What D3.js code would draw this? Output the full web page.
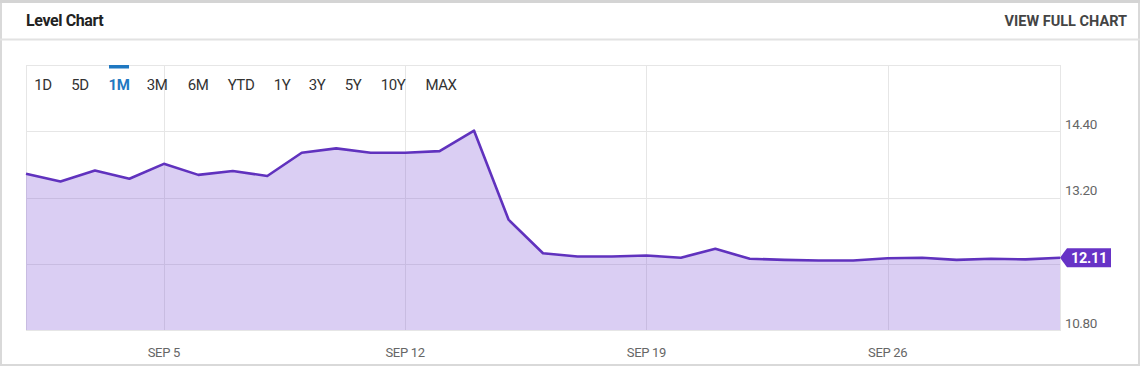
<!DOCTYPE html>
<html>
<head>
<meta charset="utf-8">
<script src="https://cdn.jsdelivr.net/npm/d3@7"></script>
<style>
  html, body { margin: 0; padding: 0; background: #fff; }
  svg { display: block; font-family: Roboto, "Noto Sans", sans-serif; }
</style>
</head>
<body>
<svg id="chart" width="1140" height="367"></svg>
<script>
// ---- data ----
const dates = [
  "2022-09-01","2022-09-02","2022-09-03","2022-09-04","2022-09-05","2022-09-06",
  "2022-09-07","2022-09-08","2022-09-09","2022-09-10","2022-09-11","2022-09-12",
  "2022-09-13","2022-09-14","2022-09-15","2022-09-16","2022-09-17","2022-09-18",
  "2022-09-19","2022-09-20","2022-09-21","2022-09-22","2022-09-23","2022-09-24",
  "2022-09-25","2022-09-26","2022-09-27","2022-09-28","2022-09-29","2022-09-30",
  "2022-10-01"
];
const values = [
  13.63, 13.49, 13.69, 13.54, 13.81, 13.61,
  13.68, 13.59, 14.01, 14.09, 14.01, 14.01,
  14.04, 14.41, 12.80, 12.19, 12.13, 12.13,
  12.15, 12.11, 12.27, 12.09, 12.07, 12.06,
  12.06, 12.10, 12.11, 12.07, 12.09, 12.08,
  12.11
];
const yTicks = [10.8, 12.0, 13.2, 14.4];
const xTickDates = ["2022-09-05", "2022-09-12", "2022-09-19", "2022-09-26"];
const rangeButtons = ["1D", "5D", "1M", "3M", "6M", "YTD", "1Y", "3Y", "5Y", "10Y", "MAX"];
const activeButton = "1M";
const title = "Level Chart";
const linkText = "VIEW FULL CHART";

// ---- setup ----
const W = 1140, H = 367;
const svg = d3.select("#chart");
const parse = d3.utcParse("%Y-%m-%d");
const data = dates.map((d, i) => ({ date: parse(d), value: values[i] }));

const plot = { left: 26, right: 1060, top: 65, bottom: 330 };
const x = d3.scaleUtc()
  .domain([parse("2022-09-01"), parse("2022-10-01")])
  .range([plot.left, plot.right]);
const y = d3.scaleLinear()
  .domain([10.8, 15.6])
  .range([plot.bottom, plot.top]);

// card background and borders
svg.append("rect").attr("x", 1).attr("y", 1).attr("width", W - 2).attr("height", H - 3)
  .attr("fill", "#fff").attr("stroke", "#d9d9d9").attr("stroke-width", 2);
svg.append("line").attr("x1", 0).attr("x2", W).attr("y1", 1.5).attr("y2", 1.5)
  .attr("stroke", "#d4d4d4").attr("stroke-width", 3);
svg.append("line").attr("x1", 0).attr("x2", W).attr("y1", 39.5).attr("y2", 39.5)
  .attr("stroke", "#e2e2e2").attr("stroke-width", 2);

// header
svg.append("text").attr("x", 26).attr("y", 26)
  .attr("font-size", 16).attr("font-weight", 700).attr("fill", "#222")
  .attr("letter-spacing", -0.4)
  .text(title);
svg.append("text").attr("x", 1127).attr("y", 26).attr("text-anchor", "end")
  .attr("font-size", 14.5).attr("font-weight", 700).attr("fill", "#444")
  .text(linkText);

// plot frame + grid
const grid = svg.append("g");
grid.append("rect")
  .attr("x", plot.left + 0.5).attr("y", plot.top + 0.5)
  .attr("width", plot.right - plot.left).attr("height", plot.bottom - plot.top)
  .attr("fill", "none").attr("stroke", "#e6e6e6");
grid.selectAll("line.h").data(yTicks.concat([15.6])).join("line")
  .attr("class", "h")
  .attr("x1", plot.left).attr("x2", plot.right)
  .attr("y1", d => Math.round(y(d)) + 0.5).attr("y2", d => Math.round(y(d)) + 0.5)
  .attr("stroke", "#e6e6e6");
grid.selectAll("line.v").data(xTickDates.map(parse)).join("line")
  .attr("class", "v")
  .attr("x1", d => Math.round(x(d)) + 0.5).attr("x2", d => Math.round(x(d)) + 0.5)
  .attr("y1", plot.top).attr("y2", plot.bottom)
  .attr("stroke", "#e6e6e6");

// area + line
const area = d3.area().x(d => x(d.date)).y0(y(10.8)).y1(d => y(d.value));
const line = d3.line().x(d => x(d.date)).y(d => y(d.value));
svg.append("path").datum(data).attr("d", area)
  .attr("fill", "rgb(118,74,210)").attr("fill-opacity", 0.27);
svg.append("path").datum(data).attr("d", line)
  .attr("fill", "none").attr("stroke", "#6032be").attr("stroke-width", 2.6)
  .attr("stroke-linejoin", "round");

// x axis labels
svg.append("g").selectAll("text").data(xTickDates.map(parse)).join("text")
  .attr("x", d => x(d)).attr("y", 357).attr("text-anchor", "middle")
  .attr("font-size", 13).attr("fill", "#666").attr("letter-spacing", -0.3)
  .text(d => d3.utcFormat("%b %-d")(d).toUpperCase());

// y axis labels (placed just above each gridline)
const last = data[data.length - 1];
svg.append("g").selectAll("text")
  .data(yTicks.filter(t => Math.abs(y(t) - y(last.value)) > 14))
  .join("text")
  .attr("x", 1065).attr("y", d => y(d) - 2.5)
  .attr("font-size", 13.5).attr("fill", "#666").attr("letter-spacing", -0.4)
  .text(d => d3.format(".2f")(d));

// last value tag
const ty = y(last.value);
const tx = x(last.date);
const tag = svg.append("g");
tag.append("path")
  .attr("d", `M${tx},${ty} L${tx + 7},${ty - 9.5} L${tx + 51},${ty - 9.5} L${tx + 51},${ty + 9.5} L${tx + 7},${ty + 9.5} Z`)
  .attr("fill", "#6733c6");
tag.append("text").attr("x", tx + 29).attr("y", ty + 5.5).attr("text-anchor", "middle")
  .attr("font-size", 14.5).attr("font-weight", 700).attr("fill", "#fff")
  .attr("letter-spacing", -0.3)
  .text(d3.format(".2f")(last.value));

// range buttons
const btnX = [43, 80, 119, 157, 198, 241, 282, 317, 353, 393, 441];
const btns = svg.append("g");
btns.selectAll("text").data(rangeButtons).join("text")
  .attr("x", (d, i) => btnX[i]).attr("y", 89.5).attr("text-anchor", "middle")
  .attr("font-size", 15).attr("letter-spacing", -0.4)
  .attr("font-weight", d => d === activeButton ? 700 : 400)
  .attr("fill", d => d === activeButton ? "#1f78c1" : "#333")
  .text(d => d);
const ai = rangeButtons.indexOf(activeButton);
btns.append("rect").attr("x", btnX[ai] - 10).attr("y", 65).attr("width", 20).attr("height", 3.5)
  .attr("fill", "#1f78c1");
</script>
</body>
</html>
